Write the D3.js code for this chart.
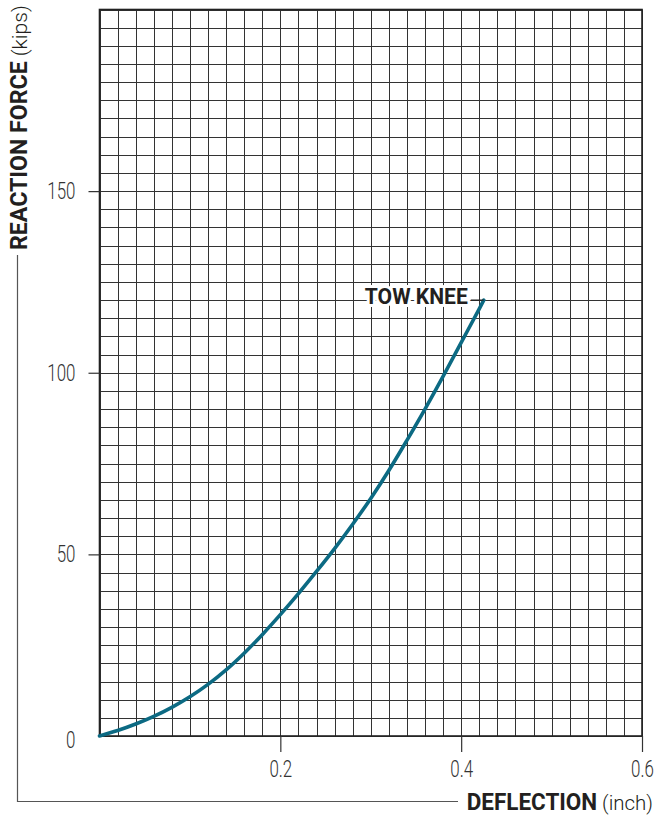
<!DOCTYPE html>
<html>
<head>
<meta charset="utf-8">
<script src="https://cdn.jsdelivr.net/npm/d3@7"></script>
<style>
  html, body { margin: 0; padding: 0; background: #fff; }
  svg { display: block; }
</style>
</head>
<body>
<svg id="chart" width="655" height="816"></svg>
<script>
// ---- data ----
const deflection = [0, 0.02, 0.04, 0.06, 0.08, 0.10, 0.12, 0.14, 0.16, 0.18, 0.20, 0.22, 0.24, 0.26, 0.28, 0.30, 0.32, 0.34, 0.36, 0.38, 0.40, 0.42, 0.425];
const reactionForce = [0, 1.5, 3.3, 5.4, 7.9, 10.8, 14.2, 18.2, 22.8, 27.9, 33.4, 39.2, 45.3, 51.6, 58.3, 65.4, 73.1, 81.4, 90.0, 99.0, 108.3, 117.6, 120.0];
const seriesName = "TOW KNEE";
const xTickValues = [0.2, 0.4, 0.6];
const yTickValues = [0, 50, 100, 150];
const xDomain = [0, 0.6];
const yDomain = [0, 200];
const xGridStep = 0.02;
const yGridStep = 5;
const xTitle = "DEFLECTION";
const xUnit = "(inch)";
const yTitle = "REACTION FORCE";
const yUnit = "(kips)";

// ---- layout ----
const L = 99.5, R = 642, T = 9.5, B = 736;
const svg = d3.select("#chart");
const x = d3.scaleLinear().domain(xDomain).range([L, R]);
const y = d3.scaleLinear().domain(yDomain).range([B, T]);

const gridColor = "#333";
const fontLight = "Roboto, 'Liberation Sans', sans-serif";

// grid
const xGrid = d3.range(0, Math.round((xDomain[1] - xDomain[0]) / xGridStep) + 1).map(i => xDomain[0] + i * xGridStep);
const yGrid = d3.range(0, Math.round((yDomain[1] - yDomain[0]) / yGridStep) + 1).map(i => yDomain[0] + i * yGridStep);
const grid = svg.append("g");
grid.selectAll("line.v").data(xGrid).join("line")
  .attr("x1", d => Math.round(x(d)) + 0.5).attr("x2", d => Math.round(x(d)) + 0.5)
  .attr("y1", T).attr("y2", B)
  .attr("stroke", gridColor).attr("stroke-width", 1);
grid.selectAll("line.h").data(yGrid).join("line")
  .attr("y1", d => Math.round(y(d)) + 0.5).attr("y2", d => Math.round(y(d)) + 0.5)
  .attr("x1", L).attr("x2", R)
  .attr("stroke", gridColor).attr("stroke-width", 1);
svg.append("rect").attr("x", L).attr("y", T).attr("width", R - L).attr("height", B - T)
  .attr("fill", "none").attr("stroke", "#222").attr("stroke-width", 1.6);

// axes
const yAxis = d3.axisLeft(y).tickValues(yTickValues).tickSize(11).tickPadding(13).tickFormat(d3.format("d"));
const gy = svg.append("g").attr("transform", `translate(${L},0)`).call(yAxis);
const xAxis = d3.axisBottom(x).tickValues(xTickValues).tickSize(16).tickPadding(8).tickFormat(d3.format(".1f"));
const gx = svg.append("g").attr("transform", `translate(0,${B})`).call(xAxis);
[gx, gy].forEach(g => {
  g.select(".domain").remove();
  g.selectAll(".tick line").attr("stroke", "#333").attr("stroke-width", 1.2);
  g.selectAll(".tick text").attr("fill", "#333").attr("font-family", fontLight)
    .attr("font-weight", 300).attr("font-size", 23.5);
});
gy.selectAll(".tick").filter(d => d === 0).select("line").remove();
gy.selectAll(".tick text").each(function(d) {
  const t = d3.select(this);
  const tx = +t.attr("x");
  t.attr("x", 0).attr("transform", `translate(${tx},${d === 0 ? 4 : 0}) scale(0.72,1)`);
});
gx.selectAll(".tick text").attr("transform", "scale(0.72,1)");

// curve
const pts = deflection.map((d, i) => [d, reactionForce[i]]);
const line = d3.line().x(d => x(d[0])).y(d => y(d[1])).curve(d3.curveCatmullRom.alpha(0.5));
svg.append("path").datum(pts).attr("d", line)
  .attr("fill", "none").attr("stroke", "#0c6a83").attr("stroke-width", 3.6).attr("stroke-linecap", "round");

// series label
const last = pts[pts.length - 1];
const ex = x(last[0]), ey = y(last[1]);
svg.append("line").attr("x1", ex - 13).attr("x2", ex).attr("y1", ey).attr("y2", ey)
  .attr("stroke", "#222").attr("stroke-width", 1.2);
const lab = svg.append("text").text(seriesName)
  .attr("font-family", "Roboto, sans-serif").attr("font-weight", 700).attr("font-size", 22)
  .attr("fill", "#231f20").attr("stroke", "#fff").attr("stroke-width", 6)
  .attr("stroke-linejoin", "round").attr("paint-order", "stroke")
  .attr("text-anchor", "end").attr("x", 0).attr("y", 0);
{
  const w = lab.node().getComputedTextLength();
  const s = 103 / w;
  lab.attr("transform", `translate(${ex - 16},${ey + 4}) scale(${s},1)`);
}

// frame lines that lead into axis titles
svg.append("line").attr("x1", 17.5).attr("x2", 17.5).attr("y1", 255).attr("y2", 802)
  .attr("stroke", "#555").attr("stroke-width", 1.2);
svg.append("line").attr("x1", 17).attr("x2", 458).attr("y1", 801.5).attr("y2", 801.5)
  .attr("stroke", "#555").attr("stroke-width", 1.2);

// axis titles
function title(main, unit, tx, ty, rot, targetW) {
  const g = svg.append("g");
  const t = g.append("text").attr("x", 0).attr("y", 0).attr("fill", "#231f20")
    .attr("font-family", "Roboto, sans-serif").attr("font-size", 23);
  t.append("tspan").attr("font-weight", 700).text(main);
  t.append("tspan").attr("font-weight", 300).attr("font-size", 21).attr("dx", 5).text(unit);
  const w = t.node().getComputedTextLength();
  const s = targetW / w;
  g.attr("transform", `translate(${tx},${ty}) rotate(${rot}) scale(${s},1)`);
}
title(xTitle, xUnit, 466.7, 810, 0, 181.6);
title(yTitle, yUnit, 26.5, 250, -90, 240);
</script>
</body>
</html>
